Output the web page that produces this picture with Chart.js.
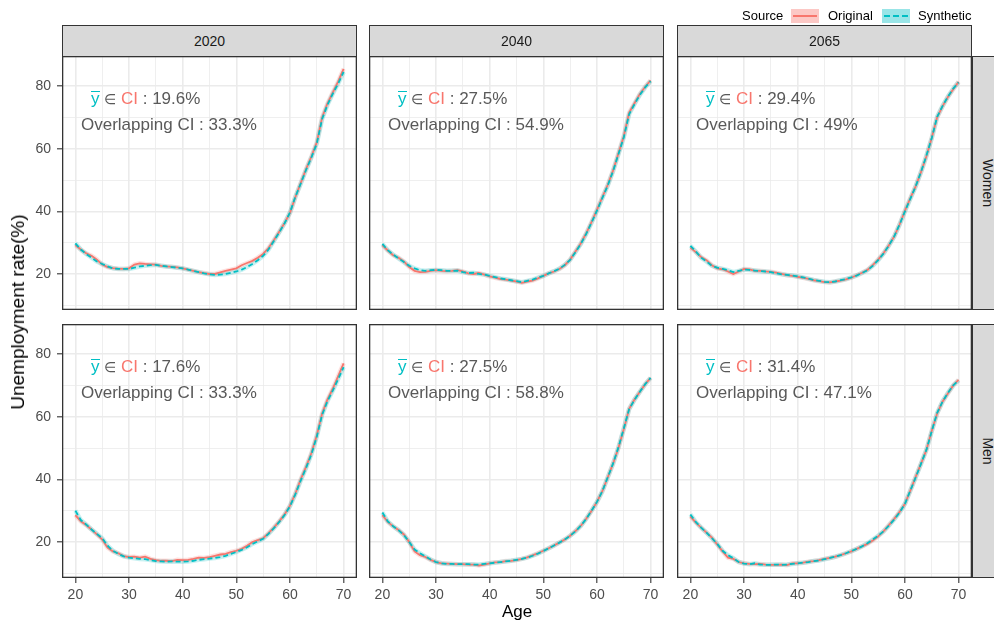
<!DOCTYPE html>
<html>
<head>
<meta charset="utf-8">
<script src="https://cdn.jsdelivr.net/npm/chart.js@4.4.1/dist/chart.umd.min.js"></script>
<style>
  body { margin: 0; background: #fff; font-family: "Liberation Sans", Arial, sans-serif; }
  #wrap { position: relative; width: 994px; height: 622px; overflow: hidden; background: #fff; }
  canvas { position: absolute; }
  .strip { position: absolute; background: #d9d9d9; border: 1px solid #333; box-sizing: border-box;
           color: #1a1a1a; font-size: 14px; display: flex; align-items: center; justify-content: center; }
  .strip span { white-space: nowrap; }
  .vstrip span { transform: rotate(90deg); }
  .note { position: absolute; font-size: 17px; line-height: 20px; color: #595959; white-space: nowrap; }
  .bar { position: relative; color: #00BFC4; }
  .bar:before { content: ''; position: absolute; left: 0; right: 0; top: 2px; border-top: 1.4px solid #00BFC4; }
  .red { color: #F8766D; }
  .txt { position: absolute; white-space: nowrap; }
  .key { position: absolute; width: 28px; height: 14px; }
  .key div { position: absolute; left: 2px; right: 2px; top: 6px; }
</style>
</head>
<body>
<div id="wrap"></div>
<script>
// ages on the x axis
const ages = [20,21,22,23,24,25,26,27,28,29,30,31,32,33,34,35,36,37,38,39,40,
              41,42,43,44,45,46,47,48,49,50,51,52,53,54,55,56,57,58,59,60,
              61,62,63,64,65,66,67,68,69,70];

const years = ['2020', '2040', '2065'];
const sexes = ['Women', 'Men'];

const xGrid = [20,25,30,35,40,45,50,55,60,65,70];
const yGrid = [10,20,30,40,50,60,70,80];

// unemployment rate (%), Original vs Synthetic
const women2020Orig = [29.2,27.8,26.6,25.8,24.6,23.0,22.2,21.9,21.7,21.6,21.8,23.0,23.4,23.2,23.1,23.0,22.6,22.4,22.3,22.1,21.8,
                       21.4,21.0,20.6,20.3,20.0,20.0,20.5,21.0,21.4,21.8,22.8,23.5,24.2,25.2,26.4,28.3,30.8,33.5,36.3,39.5,
                       44.5,49.0,53.5,57.5,62.0,70.0,74.5,78.0,81.5,85.5];
const women2020Syn  = [29.8,27.8,26.4,25.2,24.0,23.2,22.4,21.8,21.6,21.6,21.6,22.0,22.4,22.6,22.8,22.9,22.6,22.4,22.2,22.0,21.8,
                       21.4,21.0,20.6,20.2,19.9,19.7,19.8,20.0,20.4,20.8,21.4,22.2,23.2,24.4,25.8,27.8,30.5,33.3,36.2,39.6,
                       44.6,48.8,53.2,57.2,61.6,69.5,74.0,77.6,80.8,84.5];
const women2040Orig = [29.2,27.5,26.0,25.2,24.0,22.2,21.0,20.6,20.7,21.0,21.2,21.0,20.9,21.0,21.2,20.8,20.2,20.0,20.3,19.8,19.2,
                       18.8,18.4,18.2,17.9,17.6,17.2,17.6,17.9,18.6,19.4,20.2,20.8,21.6,22.8,24.6,27.2,29.8,33.0,36.6,40.5,
                       44.5,48.4,53.0,58.5,64.0,71.5,74.5,77.5,79.8,81.8];
const women2040Syn  = [29.6,27.6,26.2,25.0,23.8,22.6,21.8,21.2,21.0,21.2,21.3,21.2,21.0,21.0,21.1,20.6,20.3,20.4,20.0,19.8,19.4,
                       19.0,18.6,18.3,18.0,17.7,17.4,17.8,18.2,18.8,19.4,20.2,20.9,21.7,22.9,24.5,27.0,29.6,32.8,36.4,40.2,
                       44.2,48.2,52.8,58.2,63.6,71.0,74.2,77.2,79.6,81.6];
const women2065Orig = [28.4,27.0,25.4,24.4,22.8,21.8,21.5,20.8,20.0,20.8,21.6,21.5,21.0,21.0,20.8,20.7,20.4,20.0,19.6,19.4,19.1,
                       18.8,18.4,18.0,17.7,17.4,17.3,17.6,17.9,18.3,18.8,19.6,20.4,21.3,22.8,24.6,26.6,29.2,32.0,35.8,40.2,
                       44.2,48.0,52.6,57.6,63.5,70.0,73.5,76.5,79.0,81.4];
const women2065Syn  = [29.0,27.2,25.2,24.0,22.6,22.0,21.6,21.2,20.6,21.0,21.4,21.3,21.1,20.9,20.8,20.6,20.2,19.9,19.7,19.5,19.2,
                       18.9,18.5,18.1,17.8,17.5,17.4,17.6,18.0,18.4,18.9,19.5,20.3,21.2,22.6,24.4,26.5,29.1,32.0,35.8,40.0,
                       44.0,48.0,52.6,57.8,63.4,70.2,73.6,76.6,79.2,81.2];
const men2020Orig   = [28.6,26.6,25.4,24.0,22.4,20.8,18.2,17.0,16.4,15.5,15.2,15.3,15.0,15.3,14.6,14.2,14.0,14.0,13.9,14.3,14.2,
                       14.3,14.6,15.0,14.9,15.2,15.6,16.0,16.2,16.8,17.2,17.8,18.8,20.0,20.6,21.2,22.8,24.6,26.6,28.8,31.6,
                       35.4,40.0,44.0,48.4,54.0,61.0,65.5,69.0,73.0,77.0];
const men2020Syn    = [30.0,27.0,25.6,24.0,22.6,21.2,18.8,17.2,16.2,15.4,15.0,14.8,14.6,14.5,14.2,13.9,13.8,13.7,13.8,13.7,13.7,
                       13.8,14.0,14.3,14.5,14.7,14.9,15.2,15.6,16.2,16.8,17.5,18.3,19.4,20.2,21.0,22.6,24.4,26.4,28.6,31.4,
                       35.2,39.6,43.6,48.0,53.6,60.6,65.0,68.4,72.0,75.8];
const men2040Orig   = [28.6,26.4,25.0,23.8,22.4,20.0,17.0,15.8,15.2,14.3,13.6,13.2,13.1,13.0,12.9,12.9,12.8,12.8,12.5,12.8,13.2,
                       13.5,13.6,13.9,14.0,14.2,14.6,15.1,15.7,16.4,17.2,18.0,18.9,19.8,20.8,22.0,23.5,25.2,27.4,30.0,32.8,
                       36.2,40.6,45.0,50.0,56.0,62.5,65.5,68.0,70.4,72.4];
const men2040Syn    = [29.4,26.6,25.0,23.8,22.2,20.0,17.6,16.4,15.4,14.4,13.6,13.2,13.0,13.0,12.9,12.9,12.9,12.8,12.8,13.0,13.2,
                       13.4,13.6,13.8,14.0,14.3,14.6,15.0,15.6,16.3,17.1,18.0,18.9,19.8,20.8,22.0,23.4,25.2,27.4,30.0,32.8,
                       36.2,40.6,45.0,50.2,56.2,62.4,65.4,68.0,70.4,72.4];
const men2065Orig   = [28.2,26.2,24.6,23.0,21.4,19.2,17.0,15.0,14.6,13.6,13.2,13.0,12.9,13.0,12.8,12.7,12.7,12.8,12.6,13.2,13.2,
                       13.4,13.7,13.9,14.2,14.6,14.9,15.3,15.8,16.4,17.0,17.8,18.6,19.4,20.5,21.8,23.4,25.4,27.4,29.6,32.2,
                       36.4,40.8,45.0,49.4,55.5,61.0,64.8,67.4,70.0,71.8];
const men2065Syn    = [28.8,26.4,24.6,23.0,21.2,19.4,17.2,15.8,14.8,13.6,13.1,12.9,13.2,12.8,12.7,12.7,12.8,12.7,12.8,13.0,13.2,
                       13.4,13.6,13.9,14.1,14.5,14.9,15.3,15.8,16.4,17.1,17.8,18.6,19.6,20.8,22.0,23.4,25.2,27.2,29.4,32.2,
                       36.4,40.6,45.0,49.4,55.4,61.2,64.8,67.6,70.0,71.6];

// panel annotations (row by row)
const meanInCI  = ['19.6%', '27.5%', '29.4%', '17.6%', '27.5%', '31.4%'];
const overlapCI = ['33.3%', '54.9%', '49%', '33.3%', '58.8%', '47.1%'];

const panels = [
  [women2020Orig, women2020Syn], [women2040Orig, women2040Syn], [women2065Orig, women2065Syn],
  [men2020Orig, men2020Syn],     [men2040Orig, men2040Syn],     [men2065Orig, men2065Syn]
];

// layout (px)
const colLeft = [62, 369, 677];
const rowTop = [56, 324];
const panelW = 295, panelH = 254;
const yAxisW = 62, xAxisH = 44;
const FONT = '"Liberation Sans", Arial, sans-serif';

const wrap = document.getElementById('wrap');

function add(html) {
  wrap.insertAdjacentHTML('beforeend', html);
}

const framePlugin = {
  id: 'frame',
  afterDraw(chart) {
    const a = chart.chartArea;
    const ctx = chart.ctx;
    ctx.save();
    ctx.strokeStyle = '#333333';
    ctx.lineWidth = 1.3;
    ctx.strokeRect(a.left + 0.65, a.top + 0.65, a.right - a.left - 1.3, a.bottom - a.top - 1.3);
    ctx.restore();
  }
};

panels.forEach((pair, i) => {
  const r = Math.floor(i / 3), c = i % 3;
  const left = c === 0 ? 0 : colLeft[c];
  const w = panelW + (c === 0 ? yAxisW : 0);
  const h = panelH + (r === 1 ? xAxisH : 0);

  const cv = document.createElement('canvas');
  cv.width = w; cv.height = h;
  cv.style.left = left + 'px';
  cv.style.top = rowTop[r] + 'px';
  wrap.appendChild(cv);

  const toPts = vals => ages.map((a, k) => ({ x: a, y: vals[k] }));

  new Chart(cv, {
    type: 'line',
    data: {
      datasets: [
        { label: 'Synthetic', data: toPts(pair[1]), borderColor: '#00BFC4', borderWidth: 1.8,
          borderDash: [5, 3], pointRadius: 0, tension: 0, order: 1 },
        { label: 'Original', data: toPts(pair[0]), borderColor: '#F8766D', borderWidth: 1.8,
          pointRadius: 0, tension: 0, order: 2 },
        // faint band under each line, like the CI ribbon
        { label: 'Synthetic band', data: toPts(pair[1]), borderColor: 'rgba(0,191,196,0.22)', borderWidth: 4.5,
          pointRadius: 0, tension: 0, order: 3 },
        { label: 'Original band', data: toPts(pair[0]), borderColor: 'rgba(248,118,109,0.22)', borderWidth: 4.5,
          pointRadius: 0, tension: 0, order: 4 }
      ]
    },
    options: {
      responsive: false,
      animation: false,
      devicePixelRatio: 1,
      layout: { padding: 0, autoPadding: false },
      plugins: { legend: { display: false }, tooltip: { enabled: false } },
      scales: {
        x: {
          type: 'linear', min: 17.5, max: 72.5,
          afterBuildTicks: s => { s.ticks = xGrid.map(v => ({ value: v })); },
          afterFit: s => { s.height = r === 1 ? xAxisH : 0; s.paddingLeft = 0; s.paddingRight = 0; },
          border: { display: false },
          grid: {
            color: '#ebebeb',
            lineWidth: ctx => ctx.tick && ctx.tick.value % 10 === 0 ? 1.6 : 0.8,
            drawTicks: r === 1, tickLength: 5, tickWidth: 1.1,
            tickColor: ctx => ctx.tick && ctx.tick.value % 10 === 0 ? '#333333' : 'rgba(0,0,0,0)'
          },
          ticks: {
            display: r === 1, autoSkip: false, maxRotation: 0, padding: 4,
            color: '#4d4d4d', font: { family: FONT, size: 14 },
            callback: v => v % 10 === 0 ? String(v) : ''
          }
        },
        y: {
          type: 'linear', min: 8.5, max: 89.6,
          afterBuildTicks: s => { s.ticks = yGrid.map(v => ({ value: v })); },
          afterFit: s => { s.width = c === 0 ? yAxisW : 0; s.paddingTop = 0; s.paddingBottom = 0; },
          border: { display: false },
          grid: {
            color: '#ebebeb',
            lineWidth: ctx => ctx.tick && ctx.tick.value % 20 === 0 ? 1.6 : 0.8,
            drawTicks: c === 0, tickLength: 5, tickWidth: 1.1,
            tickColor: ctx => ctx.tick && ctx.tick.value % 20 === 0 ? '#333333' : 'rgba(0,0,0,0)'
          },
          ticks: {
            display: c === 0, autoSkip: false, padding: 6,
            color: '#4d4d4d', font: { family: FONT, size: 14 },
            callback: v => v % 20 === 0 ? String(v) : ''
          }
        }
      }
    },
    plugins: [framePlugin]
  });

  // panel text
  const px = colLeft[c], py = rowTop[r];
  add(`<div class="note" style="left:${px + 29}px;top:${py + 33}px"><span class="bar">y</span> <span style="font-size:14px">&isin;</span> <span class="red">CI</span> : ${meanInCI[i]}</div>`);
  add(`<div class="note" style="left:${px + 19}px;top:${py + 59}px">Overlapping CI : ${overlapCI[i]}</div>`);
});

// facet strips
years.forEach((yr, c) => {
  add(`<div class="strip" style="left:${colLeft[c]}px;top:25px;width:${panelW}px;height:32px"><span>${yr}</span></div>`);
});
sexes.forEach((s, r) => {
  add(`<div class="strip vstrip" style="left:972px;top:${rowTop[r]}px;width:32px;height:${panelH}px"><span>${s}</span></div>`);
});

// axis titles
add(`<div class="txt" style="left:0;width:${2 * 517}px;top:602px;text-align:center;font-size:17px;color:#000">Age</div>`);
add(`<div class="txt" style="left:18px;top:312px;font-size:19px;color:#000;transform:translate(-50%,-50%) rotate(-90deg)">Unemployment rate(%)</div>`);

// legend
add(`<div class="txt" style="left:742px;top:8px;font-size:13px;color:#000">Source</div>`);
add(`<div class="key" style="left:791px;top:9px;background:rgba(248,118,109,0.4)"><div style="border-top:2px solid #F8766D"></div></div>`);
add(`<div class="txt" style="left:828px;top:8px;font-size:13px;color:#000">Original</div>`);
add(`<div class="key" style="left:882px;top:9px;background:rgba(0,191,196,0.4)"><div style="border-top:2px dashed #00BFC4"></div></div>`);
add(`<div class="txt" style="left:918px;top:8px;font-size:13px;color:#000">Synthetic</div>`);
</script>
</body>
</html>
